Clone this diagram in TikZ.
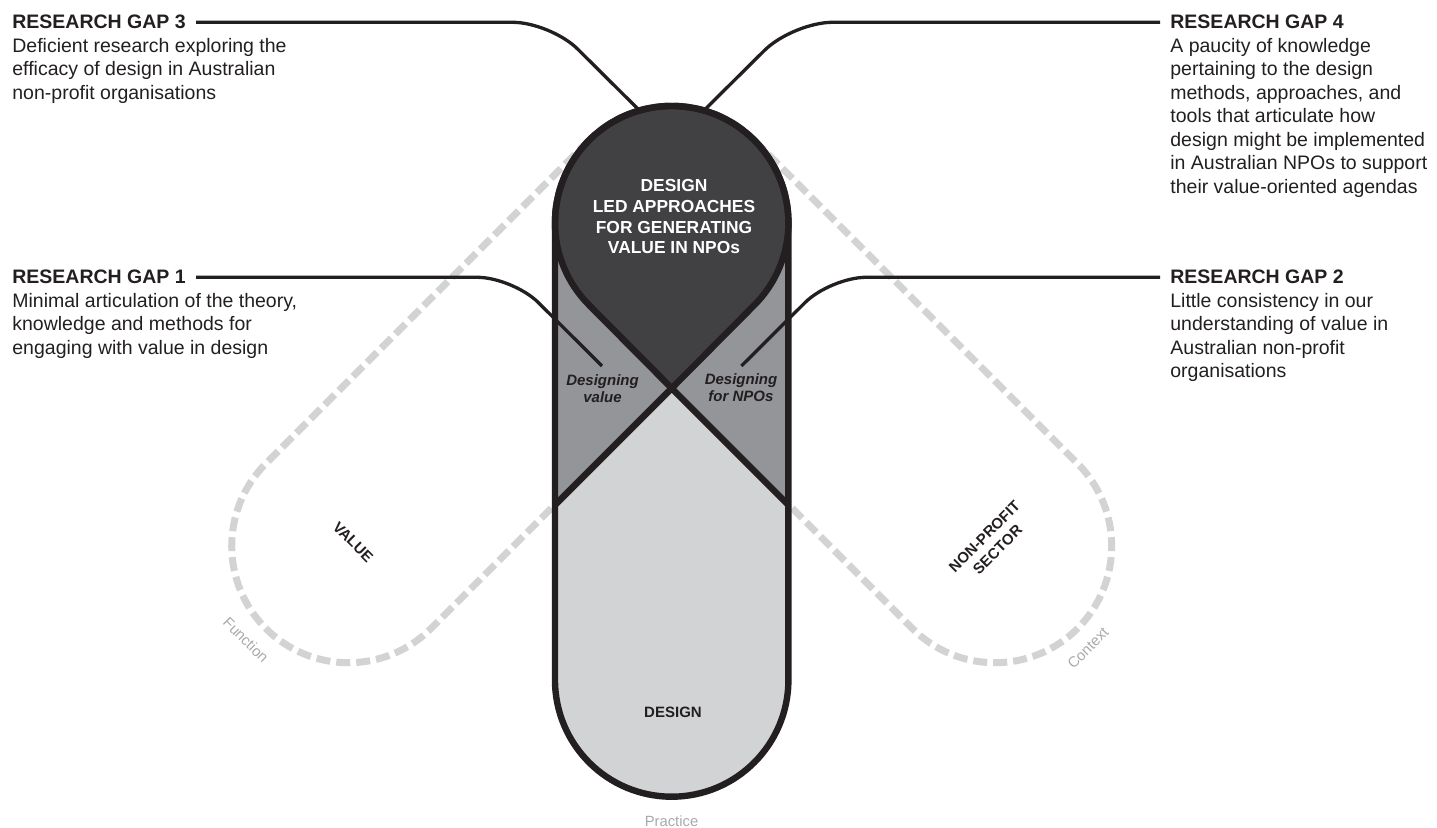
\documentclass[tikz,border=0pt]{standalone}
\usepackage{fontspec}
\setmainfont{Liberation Sans}
\usepackage{xcolor}
\definecolor{cink}  {HTML}{231F20}
\definecolor{cdark} {HTML}{414042}
\definecolor{cmid}  {HTML}{939598}
\definecolor{clight}{HTML}{D1D3D4}
\definecolor{cfaint}{HTML}{A7A9AC}

\begin{document}
\begin{tikzpicture}[x=0.5pt, y=-0.5pt,
  head/.style = {anchor=base west, inner xsep=5pt, inner ysep=0pt, text=cink,
                 font=\fontsize{9.75}{11.75}\selectfont\bfseries},
  gaptxt/.style = {anchor=base west, inner sep=0pt, align=left, text=cink,
                   font=\fontsize{9.75}{11.75}\selectfont},
  title/.style = {anchor=base, inner sep=0pt, align=center, text=white,
                  font=\fontsize{8.7}{10.4}\selectfont\bfseries},
  zone/.style = {anchor=base, inner sep=0pt, align=center, text=cink,
                 font=\fontsize{7.5}{8.75}\selectfont\bfseries\itshape},
  lbl/.style = {inner sep=0pt, align=center, text=cink,
                font=\fontsize{7.5}{9.2}\selectfont\bfseries},
  axis/.style = {inner sep=0pt, text=cfaint, font=\fontsize{7.4}{9}\selectfont},
  lead/.style = {line width=1.65pt, draw=cink},
  rim/.style = {line width=3.2pt, draw=cink},
  dashrim/.style = {line width=3.5pt, draw=clight, dash pattern=on 7pt off 3pt}
]
\useasboundingbox (0,0) rectangle (1437,828);
\coordinate (top)   at (671.7,222.7);
\coordinate (cross) at (671.7,388.3);

\draw[dashrim] (589.2,140.2) -- (265.9,463.5)
  arc[start angle=225, end angle=45, radius=116.7] -- (754.2,305.2)
  arc[start angle=45, end angle=-135, radius=116.7] -- cycle;
\draw[dashrim] (754.2,140.2) -- (1077.5,463.5)
  arc[start angle=-45, end angle=135, radius=116.7] -- (589.2,305.2)
  arc[start angle=135, end angle=315, radius=116.7] -- cycle;

\node[lbl, rotate=-45] (value)    at (353,542)  {VALUE};
\node[lbl, rotate=45]  (sector)   at (991,543)  {NON-PROFIT\\SECTOR};
\node[axis, rotate=-45] (function) at (246,640) {Function};
\node[axis, rotate=45]  (context)  at (1088,648) {Context};
\node[axis]             (practice) at (671.5,821) {Practice};

\fill[clight] (555,222.7) arc[start angle=180, end angle=360, radius=116.7]
  -- (788.4,680) arc[start angle=0, end angle=180, radius=116.7] -- cycle;
\fill[cmid] (555,222.7) -- (555,505) -- (cross) -- (788.4,505) -- (788.4,222.7) -- cycle;
\draw[rim, fill=cdark, line join=round] (589.2,305.2)
  arc[start angle=135, end angle=405, radius=116.7] -- (cross) -- cycle;
\draw[rim] (cross) -- (555,505);
\draw[rim] (cross) -- (788.4,505);
\draw[rim] (555,222.7) arc[start angle=180, end angle=360, radius=116.7]
  -- (788.4,680) arc[start angle=0, end angle=180, radius=116.7] -- cycle;

\node[title] (npo) at (674,254) {DESIGN\\LED APPROACHES\\FOR GENERATING\\VALUE IN NPOs};
\node[zone] (dvalue) at (602.5,403) {Designing\\value};
\node[zone] (dnpo)   at (741,402)   {Designing\\for NPOs};
\node[lbl]  (design) at (673,712)   {DESIGN};

\node[head]   (gap3)    at (2,29)     {RESEARCH GAP 3};
\node[gaptxt] (gap3txt) at (12,99.5)  {Deficient research exploring the\\efficacy of design in Australian\\non-profit organisations};
\node[head]   (gap1)    at (2,284)    {RESEARCH GAP 1};
\node[gaptxt] (gap1txt) at (12,354.5) {Minimal articulation of the theory,\\knowledge and methods for\\engaging with value in design};
\node[head]   (gap4)    at (1160,29)  {RESEARCH GAP 4};
\node[gaptxt] (gap4txt) at (1170,193.5) {A paucity of knowledge\\pertaining to the design\\methods, approaches, and\\tools that articulate how\\design might be implemented\\in Australian NPOs to support\\their value-oriented agendas};
\node[head]   (gap2)    at (1160,284) {RESEARCH GAP 2};
\node[gaptxt] (gap2txt) at (1170,378) {Little consistency in our\\understanding of value in\\Australian non-profit\\organisations};

\coordinate (gap3bend) at (550.7,0);
\coordinate (gap3end)  at (639.5,110.5);
\coordinate (gap4bend) at (792.8,0);
\coordinate (gap4end)  at (703.9,110.5);
\coordinate (gap1bend) at (513,0);
\coordinate (gap1end)  at (602,366);
\coordinate (gap2bend) at (830.4,0);
\coordinate (gap2end)  at (741.4,366);

\draw[lead, rounded corners=19pt] (gap3.east) -- (gap3.east -| gap3bend) -- (gap3end);
\draw[lead, rounded corners=20pt] (gap4.west) -- (gap4.west -| gap4bend) -- (gap4end);
\draw[lead, rounded corners=18pt] (gap1.east) -- (gap1.east -| gap1bend) -- (gap1end);
\draw[lead, rounded corners=18pt] (gap2.west) -- (gap2.west -| gap2bend) -- (gap2end);
\end{tikzpicture}
\end{document}
